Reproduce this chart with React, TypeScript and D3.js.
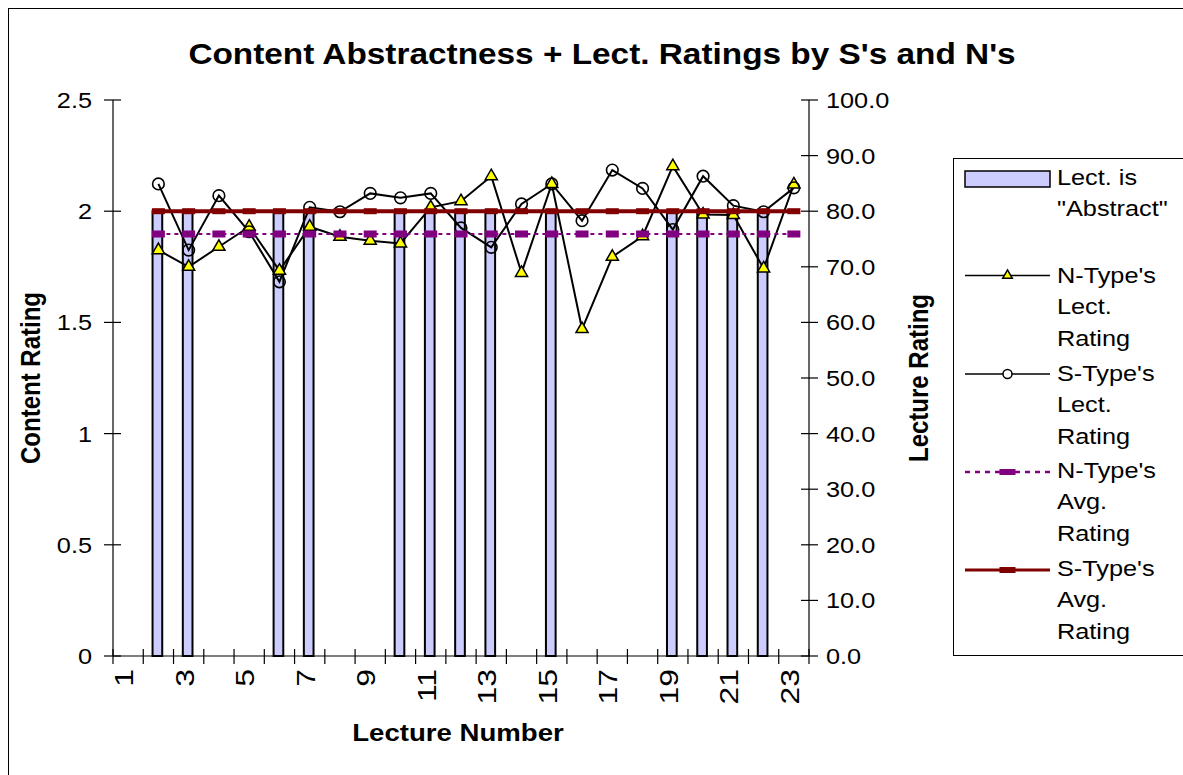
import React from 'react';
import * as d3 from 'd3';

// lecture categories and series values (right axis = lecture rating, left = content rating)
const lectures = [1, 2, 3, 4, 5, 6, 7, 8, 9, 10, 11, 12, 13, 14, 15, 16, 17, 18, 19, 20, 21, 22, 23];
const abstractContent = [0, 2, 2, 0, 0, 2, 2, 0, 0, 2, 2, 2, 2, 0, 2, 0, 0, 0, 2, 2, 2, 2, 0];
const nTypeRating = [null, 73.0, 70.0, 73.6, 77.2, 69.3, 77.2, 75.4, 74.7, 74.2, 80.7, 81.8, 86.3, 68.9, 84.9, 58.8, 71.8, 75.5, 88.1, 79.4, 79.3, 69.7, 84.8];
const sTypeRating = [null, 84.9, 73.0, 82.8, 76.3, 67.3, 80.7, 79.9, 83.2, 82.4, 83.2, 77.0, 73.5, 81.3, 84.9, 78.3, 87.4, 84.1, 76.7, 86.3, 81.0, 79.9, 84.2];
const nTypeAvg = [null, 75.9, 75.9, 75.9, 75.9, 75.9, 75.9, 75.9, 75.9, 75.9, 75.9, 75.9, 75.9, 75.9, 75.9, 75.9, 75.9, 75.9, 75.9, 75.9, 75.9, 75.9, 75.9];
const sTypeAvg = [null, 80.0, 80.0, 80.0, 80.0, 80.0, 80.0, 80.0, 80.0, 80.0, 80.0, 80.0, 80.0, 80.0, 80.0, 80.0, 80.0, 80.0, 80.0, 80.0, 80.0, 80.0, 80.0];

const leftTicks = [0, 0.5, 1, 1.5, 2, 2.5];
const rightTicks = [0, 10, 20, 30, 40, 50, 60, 70, 80, 90, 100];
const xLabelLectures = [1, 3, 5, 7, 9, 11, 13, 15, 17, 19, 21, 23];

const legendItems = [
  { key: 'bar', lines: ['Lect. is', '"Abstract"'] },
  { key: 'n', lines: ["N-Type's", 'Lect.', 'Rating'] },
  { key: 's', lines: ["S-Type's", 'Lect.', 'Rating'] },
  { key: 'navg', lines: ["N-Type's", 'Avg.', 'Rating'] },
  { key: 'savg', lines: ["S-Type's", 'Avg.', 'Rating'] },
];

const FONT = "'Liberation Sans', Arial, sans-serif";
const SX = 1.15; // the original picture is a bit stretched sideways
const BAR_FILL = '#ccccff';
const PURPLE = '#800080';
const MAROON = '#800000';

type Pt = [number, number | null];

function Txt({ x, y, size, bold = false, anchor = 'middle', rotate = false, sy = 1, children }: any) {
  return (
    <text
      transform={`translate(${x},${y}) scale(${SX},${sy})${rotate ? ' rotate(-90)' : ''}`}
      fontFamily={FONT}
      fontSize={size}
      fontWeight={bold ? 'bold' : 'normal'}
      textAnchor={anchor}
      fill="#000"
    >
      {children}
    </text>
  );
}

export default function App() {
  const plot = { left: 113, right: 809, top: 100, bottom: 656 };

  const x = d3.scaleBand<number>().domain(lectures).range([plot.left, plot.right]).padding(0);
  const cx = (l: number) => (x(l) as number) + x.bandwidth() / 2;
  const yL = d3.scaleLinear().domain([0, 2.5]).range([plot.bottom, plot.top]);
  const yR = d3.scaleLinear().domain([0, 100]).range([plot.bottom, plot.top]);

  const pts = (vals: (number | null)[]): Pt[] => lectures.map((l, i) => [l, vals[i]]);
  const line = d3
    .line<Pt>()
    .defined((d) => d[1] != null)
    .x((d) => cx(d[0]))
    .y((d) => yR(d[1] as number));

  const tri = d3.symbol(d3.symbolTriangle, 64)();
  const triSmall = d3.symbol(d3.symbolTriangle, 40)();
  const barW = x.bandwidth() * 0.32;

  const nPts = pts(nTypeRating).filter((d) => d[1] != null);
  const sPts = pts(sTypeRating).filter((d) => d[1] != null);
  const navgPts = pts(nTypeAvg).filter((d) => d[1] != null);
  const savgPts = pts(sTypeAvg).filter((d) => d[1] != null);

  // legend layout
  const legX = 953;
  const symX0 = 965;
  const symX1 = 1050;
  const textX = 1057;
  const lineGap = 31.4;
  const groupTop = [185, 283, 381, 478, 576];
  const symY = [179, 275.5, 374, 472, 570];

  return (
    <div style={{ position: 'fixed', left: 0, top: 0 }}>
      <svg width={1183} height={775} style={{ display: 'block', background: '#fff' }}>
        {/* chart frame, runs off the right and bottom edges */}
        <rect x={8.5} y={8.5} width={1300} height={900} fill="#fff" stroke="#000" strokeWidth={1} />

        <Txt x={602} y={64} size={29} bold>
          Content Abstractness + Lect. Ratings by S's and N's
        </Txt>

        {/* bars: lecture is abstract */}
        {lectures.map((l, i) =>
          abstractContent[i] > 0 ? (
            <rect
              key={'b' + l}
              x={cx(l) - barW / 2 - 1}
              y={yL(abstractContent[i])}
              width={barW}
              height={yL(0) - yL(abstractContent[i])}
              fill={BAR_FILL}
              stroke="#000"
              strokeWidth={2}
            />
          ) : null
        )}

        {/* axes */}
        <line x1={plot.left} x2={plot.left} y1={plot.top} y2={plot.bottom} stroke="#000" strokeWidth={1.2} />
        <line x1={plot.right} x2={plot.right} y1={plot.top} y2={plot.bottom} stroke="#000" strokeWidth={1.2} />
        <line x1={plot.left} x2={plot.right} y1={plot.bottom} y2={plot.bottom} stroke="#000" strokeWidth={1.2} />

        {leftTicks.map((t) => (
          <g key={'lt' + t}>
            <line x1={plot.left - 9} x2={plot.left + 8} y1={yL(t)} y2={yL(t)} stroke="#000" strokeWidth={1.2} />
            <Txt x={92} y={yL(t) + 8} size={22} anchor="end">
              {String(t)}
            </Txt>
          </g>
        ))}
        {rightTicks.map((t) => (
          <g key={'rt' + t}>
            <line x1={plot.right - 8} x2={plot.right + 9} y1={yR(t)} y2={yR(t)} stroke="#000" strokeWidth={1.2} />
            <Txt x={826} y={yR(t) + 8} size={22} anchor="start">
              {t.toFixed(1)}
            </Txt>
          </g>
        ))}
        {lectures.concat([24]).map((l) => {
          const xx = l <= 23 ? (x(l) as number) : plot.right;
          return <line key={'xt' + l} x1={xx} x2={xx} y1={plot.bottom - 7} y2={plot.bottom + 8} stroke="#000" strokeWidth={1.2} />;
        })}
        {xLabelLectures.map((l) => (
          <Txt key={'xl' + l} x={cx(l) + 5} y={669} size={22} anchor="end" rotate sy={1.45}>
            {String(l)}
          </Txt>
        ))}

        <Txt x={458} y={741} size={24} bold>
          Lecture Number
        </Txt>
        <Txt x={40} y={378} size={24} bold rotate>
          Content Rating
        </Txt>
        <Txt x={928} y={378} size={24} bold rotate>
          Lecture Rating
        </Txt>

        {/* N-type ratings */}
        <path d={line(pts(nTypeRating)) || ''} fill="none" stroke="#000" strokeWidth={2} />
        {/* S-type ratings */}
        <path d={line(pts(sTypeRating)) || ''} fill="none" stroke="#000" strokeWidth={2} />
        {nPts.map((d) => (
          <path key={'nt' + d[0]} d={tri || ''} transform={`translate(${cx(d[0])},${yR(d[1] as number)})`} fill="#ffff00" stroke="#000" strokeWidth={1.5} />
        ))}
        {sPts.map((d) => (
          <circle key={'sc' + d[0]} cx={cx(d[0])} cy={yR(d[1] as number)} r={5.8} fill="none" stroke="#000" strokeWidth={1.6} />
        ))}

        {/* averages */}
        <path d={line(pts(nTypeAvg)) || ''} fill="none" stroke={PURPLE} strokeWidth={2.2} strokeDasharray="4,4" />
        {navgPts.map((d) => (
          <rect key={'na' + d[0]} x={cx(d[0]) - 6.5} y={yR(d[1] as number) - 3.5} width={13} height={7} fill={PURPLE} />
        ))}
        <path d={line(pts(sTypeAvg)) || ''} fill="none" stroke={MAROON} strokeWidth={4} />
        {savgPts.map((d) => (
          <rect key={'sa' + d[0]} x={cx(d[0]) - 6.5} y={yR(d[1] as number) - 3} width={13} height={6} fill={MAROON} />
        ))}

        {/* legend */}
        <rect x={legX + 0.5} y={158.5} width={400} height={497} fill="#fff" stroke="#000" strokeWidth={1} />
        <rect x={symX0} y={symY[0] - 8} width={symX1 - symX0} height={16} fill={BAR_FILL} stroke="#000" strokeWidth={1.5} />
        <line x1={symX0} x2={symX1} y1={symY[1]} y2={symY[1]} stroke="#000" strokeWidth={1.5} />
        <path d={triSmall || ''} transform={`translate(${(symX0 + symX1) / 2},${symY[1]})`} fill="#ffff00" stroke="#000" strokeWidth={1.5} />
        <line x1={symX0} x2={symX1} y1={symY[2]} y2={symY[2]} stroke="#000" strokeWidth={1.5} />
        <circle cx={(symX0 + symX1) / 2} cy={symY[2]} r={4.5} fill="#fff" stroke="#000" strokeWidth={1.5} />
        <line x1={symX0} x2={symX1} y1={symY[3]} y2={symY[3]} stroke={PURPLE} strokeWidth={2.5} strokeDasharray="5,5" />
        <rect x={(symX0 + symX1) / 2 - 8} y={symY[3] - 3} width={16} height={6} fill={PURPLE} />
        <line x1={symX0} x2={symX1} y1={symY[4]} y2={symY[4]} stroke={MAROON} strokeWidth={3} />
        <rect x={(symX0 + symX1) / 2 - 8} y={symY[4] - 3} width={16} height={6} fill={MAROON} />
        {legendItems.map((it, gi) =>
          it.lines.map((s, li) => (
            <Txt key={it.key + li} x={textX} y={groupTop[gi] + li * lineGap} size={22} anchor="start">
              {s}
            </Txt>
          ))
        )}
      </svg>
    </div>
  );
}
